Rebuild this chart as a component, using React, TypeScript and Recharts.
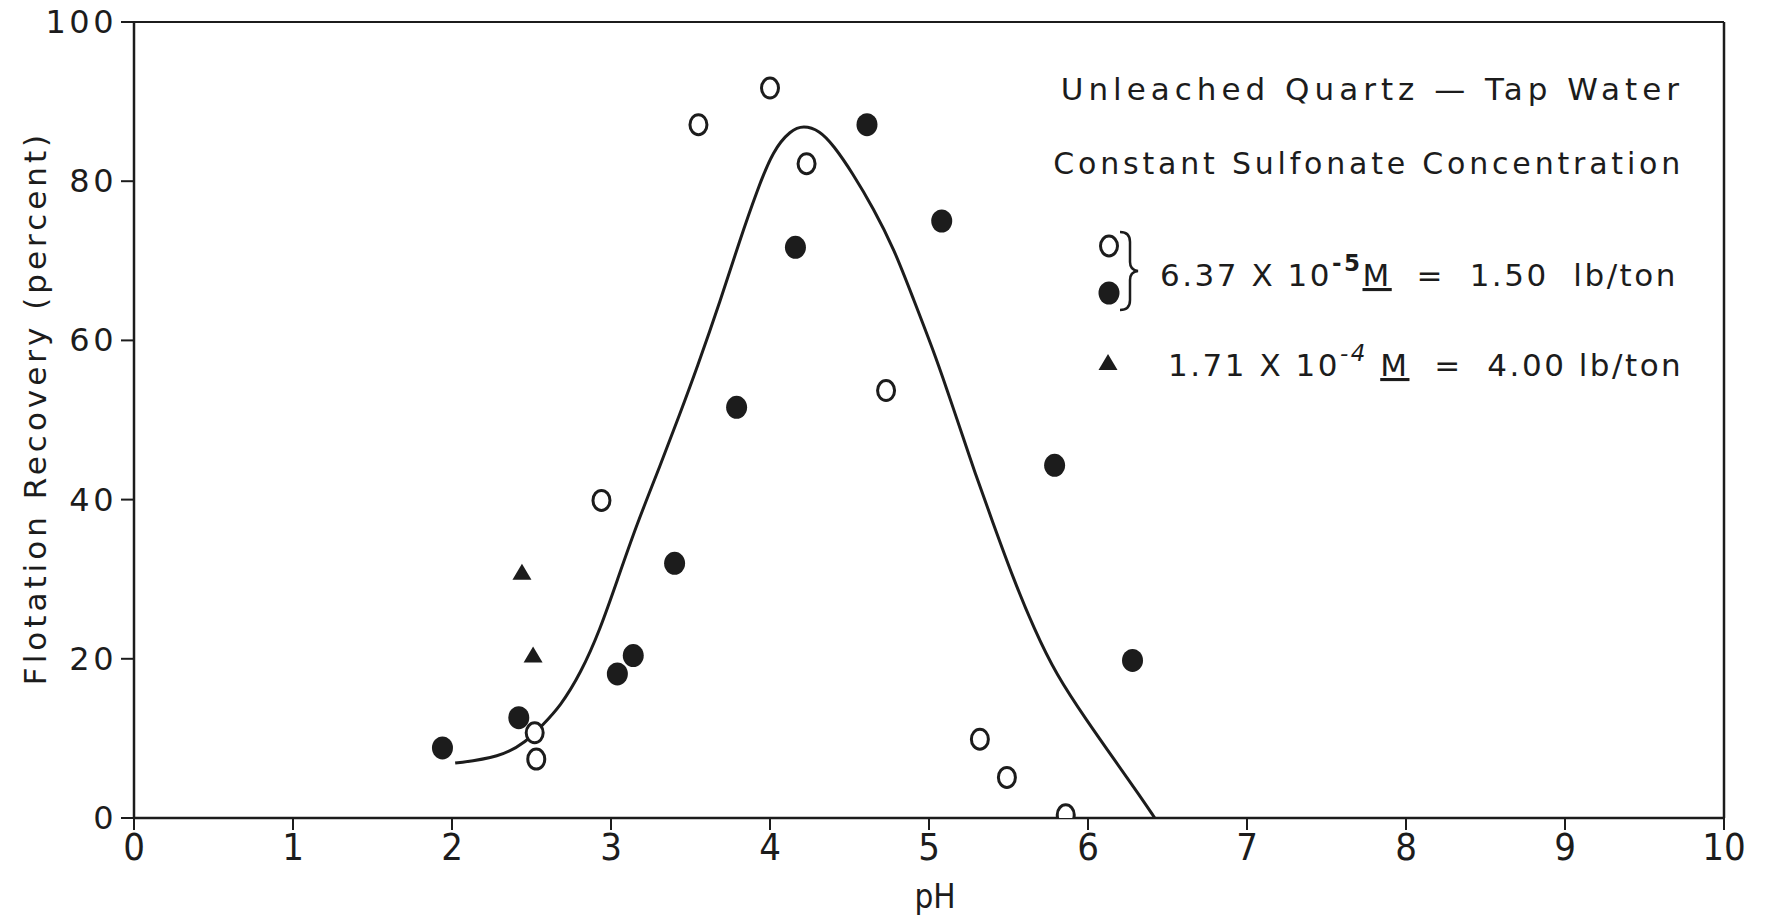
import React from "react";
import { ComposedChart, Line, Scatter, XAxis, YAxis } from "recharts";

const xTicks = [0, 1, 2, 3, 4, 5, 6, 7, 8, 9, 10];
const xTickLabels = ["0", "1", "2", "3", "4", "5", "6", "7", "8", "9", "10"];
const yTicks = [0, 20, 40, 60, 80, 100];

// 6.37 x 10^-5 M, open circles
const openCircles = [
  { ph: 4.0, rec: 91.7 },
  { ph: 3.55, rec: 87.1 },
  { ph: 4.23, rec: 82.2 },
  { ph: 4.73, rec: 53.7 },
  { ph: 2.94, rec: 39.9 },
  { ph: 2.52, rec: 10.7 },
  { ph: 2.53, rec: 7.4 },
  { ph: 5.32, rec: 9.9 },
  { ph: 5.49, rec: 5.1 },
  { ph: 5.86, rec: 0.4 },
];

// 6.37 x 10^-5 M, filled circles
const filledCircles = [
  { ph: 4.61, rec: 87.1 },
  { ph: 4.16, rec: 71.7 },
  { ph: 5.08, rec: 75.0 },
  { ph: 3.79, rec: 51.6 },
  { ph: 3.4, rec: 32.0 },
  { ph: 5.79, rec: 44.3 },
  { ph: 3.14, rec: 20.4 },
  { ph: 3.04, rec: 18.1 },
  { ph: 2.42, rec: 12.6 },
  { ph: 1.94, rec: 8.8 },
  { ph: 6.28, rec: 19.8 },
];

// 1.71 x 10^-4 M, triangles
const triangles = [
  { ph: 2.44, rec: 30.8 },
  { ph: 2.51, rec: 20.4 },
];

// fitted curve
const curve = [
  { ph: 2.02, rec: 6.9 },
  { ph: 2.3, rec: 7.6 },
  { ph: 2.47, rec: 9.6 },
  { ph: 2.57, rec: 11.7 },
  { ph: 2.68, rec: 14.0 },
  { ph: 2.81, rec: 18.2 },
  { ph: 2.93, rec: 23.6 },
  { ph: 3.04, rec: 29.9 },
  { ph: 3.16, rec: 36.8 },
  { ph: 3.31, rec: 44.3 },
  { ph: 3.43, rec: 50.6 },
  { ph: 3.54, rec: 56.5 },
  { ph: 3.69, rec: 65.1 },
  { ph: 3.81, rec: 72.6 },
  { ph: 3.92, rec: 78.9 },
  { ph: 4.02, rec: 83.9 },
  { ph: 4.13, rec: 86.4 },
  { ph: 4.21, rec: 87.0 },
  { ph: 4.31, rec: 86.4 },
  { ph: 4.4, rec: 84.5 },
  { ph: 4.52, rec: 81.0 },
  { ph: 4.65, rec: 76.6 },
  { ph: 4.78, rec: 71.5 },
  { ph: 4.9, rec: 65.3 },
  { ph: 5.03, rec: 58.6 },
  { ph: 5.11, rec: 54.0 },
  { ph: 5.22, rec: 47.5 },
  { ph: 5.28, rec: 43.9 },
  { ph: 5.4, rec: 37.2 },
  { ph: 5.53, rec: 30.1 },
  { ph: 5.66, rec: 23.8 },
  { ph: 5.8, rec: 18.0 },
  { ph: 5.99, rec: 12.3 },
  { ph: 6.18, rec: 6.9 },
  { ph: 6.33, rec: 2.7 },
  { ph: 6.42, rec: 0 },
];

const INK = "#1c1c1c";
const W = 1750;
const H = 917;
const OY = 8; // vertical offset of overlay (wrapper moved up by body margin)

const OpenShape = (p: any) => (
  <ellipse cx={p.cx} cy={p.cy} rx={8.5} ry={10} fill="#fff" stroke={INK} strokeWidth={3} />
);
const FilledShape = (p: any) => (
  <ellipse cx={p.cx} cy={p.cy} rx={10.5} ry={11.5} fill={INK} />
);
const TriShape = (p: any) => (
  <polygon
    points={`${p.cx},${p.cy - 9} ${p.cx - 9.5},${p.cy + 7} ${p.cx + 9.5},${p.cy + 7}`}
    fill={INK}
  />
);

const XTick = (p: any) => {
  const { x, y, payload } = p;
  const i = xTicks.indexOf(payload.value);
  return (
    <text
      x={x}
      y={y + 28}
      textAnchor="middle"
      fontFamily="'Liberation Sans Narrow', 'DejaVu Sans Condensed', sans-serif"
      fontSize={38}
      fill={INK}
    >
      {i >= 0 ? xTickLabels[i] : payload.value}
    </text>
  );
};

const YTick = (p: any) => {
  const { x, y, payload } = p;
  return (
    <text
      x={x - 2}
      y={y + 11}
      textAnchor="end"
      fontFamily="'DejaVu Sans', sans-serif"
      fontSize={32}
      letterSpacing={3.5}
      fill={INK}
    >
      {payload.value}
    </text>
  );
};

const legendFont = "'DejaVu Sans', sans-serif";

export default function App() {
  return (
    <div style={{ position: "relative", width: W, height: H, background: "#fff", marginTop: -8 }}>
      <ComposedChart
        width={W}
        height={H}
        margin={{ top: 8, right: 0, left: 0, bottom: 0 }}
        style={{ overflow: "visible" }}
      >
        <XAxis
          xAxisId="bottom"
          type="number"
          dataKey="ph"
          domain={[0, 10]}
          ticks={xTicks}
          interval={0}
          height={99}
          tickSize={12}
          tick={<XTick />}
          axisLine={{ stroke: INK, strokeWidth: 2.5 }}
          tickLine={{ stroke: INK, strokeWidth: 2 }}
          allowDataOverflow
        />
        <XAxis
          xAxisId="top"
          orientation="top"
          type="number"
          dataKey="ph"
          domain={[0, 10]}
          ticks={xTicks}
          interval={0}
          height={14}
          tickSize={9}
          tick={false}
          axisLine={{ stroke: INK, strokeWidth: 2 }}
          tickLine={{ stroke: INK, strokeWidth: 2 }}
          allowDataOverflow
        />
        <YAxis
          yAxisId="left"
          type="number"
          domain={[0, 100]}
          ticks={yTicks}
          interval={0}
          width={126}
          tickSize={13}
          tick={<YTick />}
          axisLine={{ stroke: INK, strokeWidth: 2.5 }}
          tickLine={{ stroke: INK, strokeWidth: 2 }}
          allowDataOverflow
        />
        <YAxis
          yAxisId="right"
          orientation="right"
          type="number"
          domain={[0, 100]}
          ticks={yTicks}
          interval={0}
          width={34}
          tickSize={9}
          tick={false}
          axisLine={{ stroke: INK, strokeWidth: 2.5 }}
          tickLine={{ stroke: INK, strokeWidth: 2 }}
          allowDataOverflow
        />
        <Line
          xAxisId="bottom"
          yAxisId="left"
          data={curve}
          dataKey="rec"
          type="basis"
          stroke={INK}
          strokeWidth={3}
          dot={false}
          activeDot={false}
          isAnimationActive={false}
        />
        <Scatter
          xAxisId="bottom"
          yAxisId="left"
          data={openCircles}
          dataKey="rec"
          shape={<OpenShape />}
          isAnimationActive={false}
        />
        <Scatter
          xAxisId="bottom"
          yAxisId="left"
          data={filledCircles}
          dataKey="rec"
          shape={<FilledShape />}
          isAnimationActive={false}
        />
        <Scatter
          xAxisId="bottom"
          yAxisId="left"
          data={triangles}
          dataKey="rec"
          shape={<TriShape />}
          isAnimationActive={false}
        />
        <Scatter
          xAxisId="top"
          yAxisId="right"
          data={triangles}
          dataKey="rec"
          shape={() => <g />}
          isAnimationActive={false}
        />
      </ComposedChart>
      <svg
        width={W}
        height={H}
        style={{ position: "absolute", left: 0, top: 0, pointerEvents: "none", overflow: "visible" }}
      >
        <g transform={`translate(0 ${OY})`}>
          <text
            x={27}
            y={400}
            transform="rotate(-90 27 400)"
            textAnchor="middle"
            dominantBaseline="central"
            fontFamily={legendFont}
            fontSize={31}
            letterSpacing={4}
            fill={INK}
          >
            Flotation Recovery (percent)
          </text>
          <text
            x={927}
            y={888}
            textAnchor="middle"
            dominantBaseline="central"
            fontFamily="'Liberation Sans Narrow', 'DejaVu Sans Condensed', sans-serif"
            fontSize={33}
            fill={INK}
          >
            pH
          </text>
          <text
            x={1676}
            y={92}
            textAnchor="end"
            fontFamily={legendFont}
            fontSize={31}
            letterSpacing={5}
            fill={INK}
          >
            Unleached  Quartz — Tap Water
          </text>
          <text
            x={1676}
            y={166}
            textAnchor="end"
            fontFamily={legendFont}
            fontSize={30}
            letterSpacing={3.8}
            fill={INK}
          >
            Constant Sulfonate Concentration
          </text>
          <ellipse cx={1101} cy={238} rx={8.5} ry={10} fill="#fff" stroke={INK} strokeWidth={3} />
          <ellipse cx={1101} cy={285} rx={10.5} ry={11.5} fill={INK} />
          <path
            d="M1112,224 Q1122,224 1122,234 L1122,254 Q1122,262 1130,263 Q1122,264 1122,272 L1122,292 Q1122,302 1112,302"
            fill="none"
            stroke={INK}
            strokeWidth={2.5}
          />
          <text
            x={1152}
            y={278}
            fontFamily={legendFont}
            fontSize={31}
            letterSpacing={2.5}
            fill={INK}
            style={{ whiteSpace: "pre" }}
          >
            6.37 X 10
            <tspan dy={-15} fontSize={23} fontWeight="bold">-5</tspan>
            <tspan dy={15} textDecoration="underline">M</tspan>
            <tspan>{"  =  1.50  lb/ton"}</tspan>
          </text>
          <polygon points="1100,346 1090.5,362 1109.5,362" fill={INK} />
          <text
            x={1160}
            y={368}
            fontFamily={legendFont}
            fontSize={31}
            letterSpacing={2.5}
            fill={INK}
            style={{ whiteSpace: "pre" }}
          >
            1.71 X 10
            <tspan dy={-15} fontSize={23} fontStyle="italic">-4</tspan>
            <tspan dy={15}>{" "}</tspan>
            <tspan textDecoration="underline">M</tspan>
            <tspan>{"  =  4.00 lb/ton"}</tspan>
          </text>
        </g>
      </svg>
    </div>
  );
}
